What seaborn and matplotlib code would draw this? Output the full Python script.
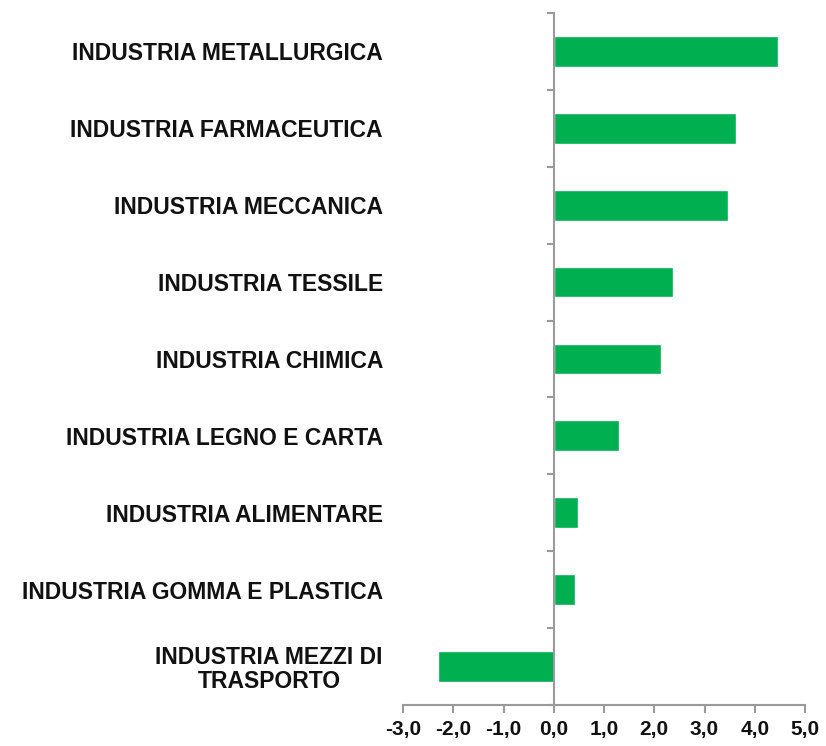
"""
Variazione per settore industriale - barre orizzontali
"""

import pandas as pd
import matplotlib
matplotlib.use("Agg")
import matplotlib.pyplot as plt
from matplotlib.ticker import FixedLocator
import seaborn as sns

# ============ DATA ============
settori = [
    "INDUSTRIA METALLURGICA",
    "INDUSTRIA FARMACEUTICA",
    "INDUSTRIA MECCANICA",
    "INDUSTRIA TESSILE",
    "INDUSTRIA CHIMICA",
    "INDUSTRIA LEGNO E CARTA",
    "INDUSTRIA ALIMENTARE",
    "INDUSTRIA GOMMA E PLASTICA",
    "INDUSTRIA MEZZI DI\nTRASPORTO",
]
valori = [4.46, 3.63, 3.46, 2.37, 2.13, 1.29, 0.48, 0.42, -2.30]
x_ticks = [-3, -2, -1, 0, 1, 2, 3, 4, 5]

# ============ STYLE ============
BAR_COLOR = "#00AF50"
AXIS_COLOR = "#9a9a9a"
FONT = ["Liberation Sans", "DejaVu Sans"]


def main():
    sns.set_style("white")
    plt.rcParams["font.family"] = FONT

    df = pd.DataFrame({"settore": settori, "valore": valori})

    fig = plt.figure(figsize=(8.26, 7.46), dpi=100)
    ax = fig.add_axes([0.488, 0.055, 0.4866, 0.9276])

    sns.barplot(data=df, x="valore", y="settore", orient="h",
                color=BAR_COLOR, width=0.4, saturation=1, ax=ax)

    ax.set_xlim(-3, 5)
    ax.set_ylim(len(settori) - 0.5, -0.5)

    # spines
    for side in ["top", "right"]:
        ax.spines[side].set_visible(False)
    ax.spines["left"].set_position(("data", 0))
    ax.spines["left"].set_color(AXIS_COLOR)
    ax.spines["left"].set_linewidth(1.5)
    ax.spines["bottom"].set_color(AXIS_COLOR)
    ax.spines["bottom"].set_linewidth(1.5)

    # x ticks with comma decimal
    ax.set_xticks(x_ticks)
    ax.set_xticklabels([f"{t:.1f}".replace(".", ",") for t in x_ticks],
                       fontsize=15, fontweight="bold", color="#111111")
    ax.tick_params(axis="x", direction="out", length=6, width=1.5,
                   color=AXIS_COLOR, pad=5, bottom=True)

    # y: labels at centres, ticks at category boundaries
    ax.yaxis.set_minor_locator(FixedLocator(
        [i - 0.5 for i in range(len(settori) + 1)]))
    ax.tick_params(axis="y", which="major", length=0, pad=123)
    ax.tick_params(axis="y", which="minor", direction="out", length=5,
                   width=1.5, color=AXIS_COLOR, left=True)
    for lab in ax.get_yticklabels():
        lab.set_fontsize(16.5)
        lab.set_fontweight("bold")
        lab.set_color("#111111")
        lab.set_multialignment("center")
        lab.set_linespacing(1.05)

    ax.set_xlabel("")
    ax.set_ylabel("")
    ax.grid(False)

    fig.savefig("out.png", dpi=100)


if __name__ == "__main__":
    main()
